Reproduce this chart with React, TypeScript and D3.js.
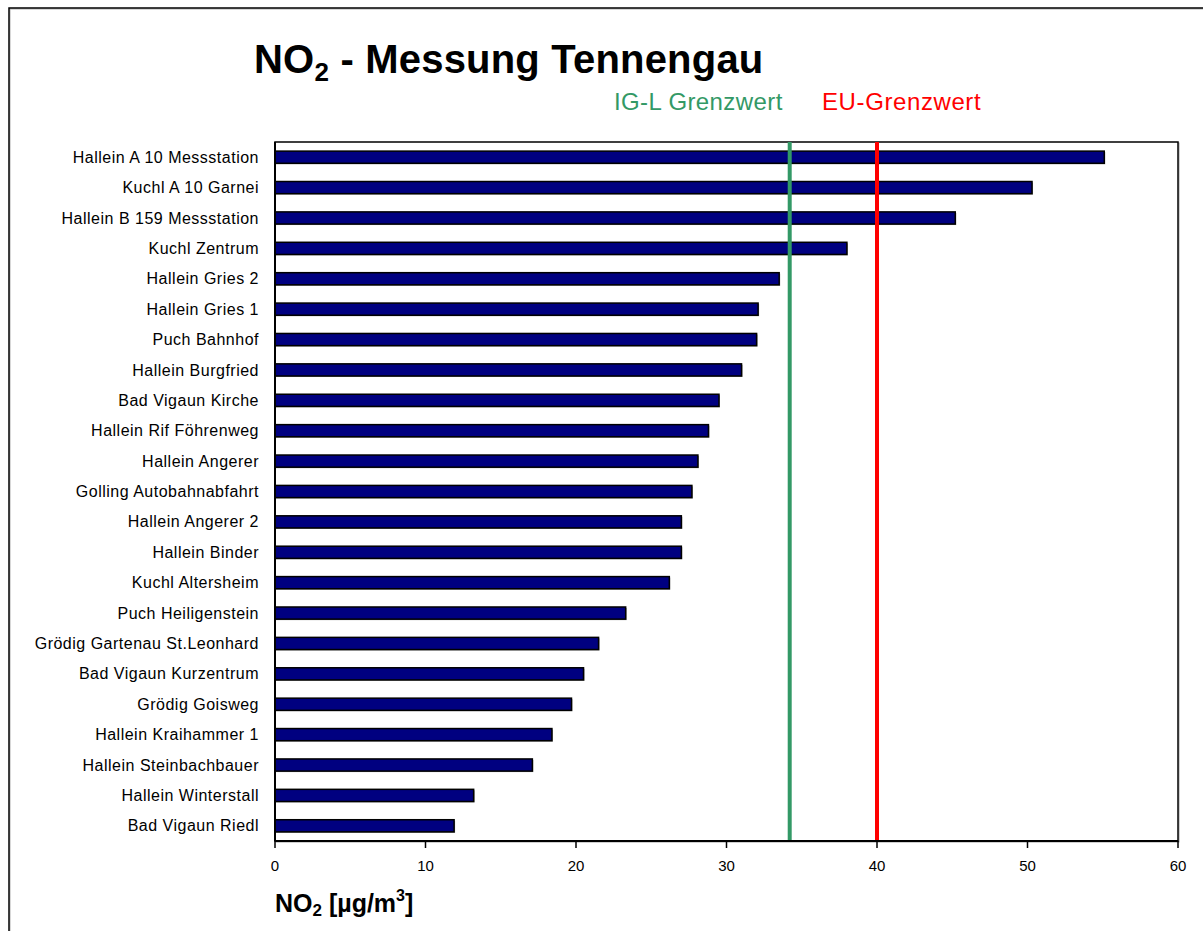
import React from "react";
import * as d3 from "d3";

const categories = [
  "Hallein A 10 Messstation",
  "Kuchl A 10 Garnei",
  "Hallein B 159 Messstation",
  "Kuchl Zentrum",
  "Hallein Gries 2",
  "Hallein Gries 1",
  "Puch Bahnhof",
  "Hallein Burgfried",
  "Bad Vigaun Kirche",
  "Hallein Rif Föhrenweg",
  "Hallein Angerer",
  "Golling Autobahnabfahrt",
  "Hallein Angerer 2",
  "Hallein Binder",
  "Kuchl Altersheim",
  "Puch Heiligenstein",
  "Grödig Gartenau St.Leonhard",
  "Bad Vigaun Kurzentrum",
  "Grödig Goisweg",
  "Hallein Kraihammer 1",
  "Hallein Steinbachbauer",
  "Hallein Winterstall",
  "Bad Vigaun Riedl",
];

const values = [
  55.1, 50.3, 45.2, 38.0, 33.5, 32.1, 32.0, 31.0, 29.5, 28.8, 28.1, 27.7,
  27.0, 27.0, 26.2, 23.3, 21.5, 20.5, 19.7, 18.4, 17.1, 13.2, 11.9,
];

const xTicks = [0, 10, 20, 30, 40, 50, 60];

const limitNames = ["IG-L Grenzwert", "EU-Grenzwert"];
const limitValues = [34.2, 40];
const limitColors = ["#339966", "#ff0000"];

const FONT = "'Liberation Sans', Arial, sans-serif";

export default function App() {
  const left = 275;
  const right = 1178;
  const top = 142;
  const bottom = 841;

  const x = d3.scaleLinear().domain([0, 60]).range([left, right]);
  const y = d3
    .scaleBand<string>()
    .domain(categories)
    .range([top, bottom])
    .paddingInner(0.6)
    .paddingOuter(0.3);

  return (
    <svg
      width={1203}
      height={931}
      style={{ position: "absolute", left: 0, top: 0, display: "block", background: "#fff" }}
      fontFamily={FONT}
    >
      {/* outer frame */}
      <rect x={10} y={9} width={1300} height={1000} fill="none" stroke="#b0b0b0" strokeWidth={1} />
      <rect x={9} y={8} width={1300} height={1000} fill="none" stroke="#000" strokeWidth={1.5} />

      {/* title */}
      <text x={254} y={73} fontSize={40} fontWeight="bold" fill="#000" letterSpacing={0.2}>
        <tspan>NO</tspan>
        <tspan fontSize={26} dy={8}>2</tspan>
        <tspan dy={-8}> - Messung Tennengau</tspan>
      </text>

      {/* legend labels */}
      <text x={x(limitValues[0]) - 7} y={110} fontSize={24} fill={limitColors[0]} textAnchor="end" letterSpacing={0.4}>
        {limitNames[0]}
      </text>
      <text x={x(limitValues[1]) - 55} y={110} fontSize={24} fill={limitColors[1]} textAnchor="start" letterSpacing={0.6}>
        {limitNames[1]}
      </text>

      {/* plot frame */}
      <rect x={left + 1} y={top + 1} width={right - left} height={bottom - top} fill="none" stroke="#a0a0a0" strokeWidth={1} />
      <rect x={left} y={top} width={right - left} height={bottom - top} fill="#fff" stroke="#000" strokeWidth={1.5} />

      {/* bars */}
      {categories.map((c, i) => (
        <g key={c}>
          <rect
            x={x(0) + 1}
            y={(y(c) as number) + 1}
            width={x(values[i]) - x(0)}
            height={y.bandwidth()}
            fill="#9a9a9a"
          />
          <rect
            x={x(0)}
            y={y(c)}
            width={x(values[i]) - x(0)}
            height={y.bandwidth()}
            fill="#000080"
            stroke="#000"
            strokeWidth={1.5}
          />
        </g>
      ))}

      {/* limit lines */}
      {limitValues.map((v, i) => (
        <line
          key={limitNames[i]}
          x1={x(v)}
          x2={x(v)}
          y1={top}
          y2={bottom}
          stroke={limitColors[i]}
          strokeWidth={4}
        />
      ))}

      {/* axes */}
      <line x1={left} x2={left} y1={top} y2={bottom} stroke="#000" strokeWidth={2} />
      <line x1={left} x2={right} y1={bottom} y2={bottom} stroke="#000" strokeWidth={2} />
      {xTicks.map((t) => (
        <g key={t}>
          <line x1={x(t)} x2={x(t)} y1={bottom} y2={bottom + 7} stroke="#000" strokeWidth={1.5} />
          <text x={x(t)} y={871} fontSize={15} textAnchor="middle" fill="#000">
            {t}
          </text>
        </g>
      ))}

      {/* category labels */}
      {categories.map((c) => (
        <text
          key={c}
          x={259}
          y={(y(c) as number) + y.bandwidth() / 2}
          dy="0.35em"
          fontSize={16}
          letterSpacing={0.5}
          textAnchor="end"
          fill="#000"
        >
          {c}
        </text>
      ))}

      {/* x axis title */}
      <text x={275} y={912} fontSize={25} fontWeight="bold" fill="#000">
        <tspan>NO</tspan>
        <tspan fontSize={17} dy={4}>2</tspan>
        <tspan dy={-4}> [µg/m</tspan>
        <tspan fontSize={16} dy={-11}>3</tspan>
        <tspan dy={11}>]</tspan>
      </text>
    </svg>
  );
}
